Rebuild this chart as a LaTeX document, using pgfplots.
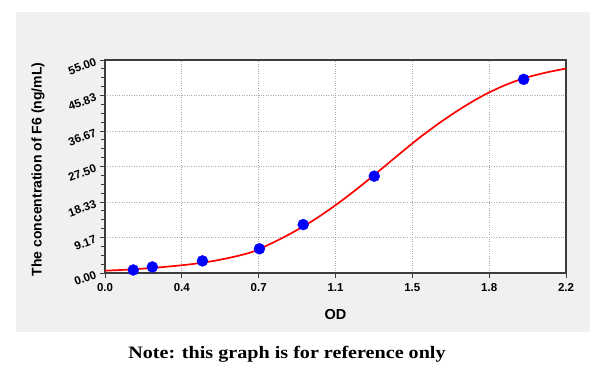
\documentclass[border=0pt]{standalone}
\usepackage{pgfplots}
\pgfplotsset{compat=1.18}
\usepackage{fontspec}
\setmainfont{Liberation Sans}
\newfontfamily\notefont[FakeStretch=1.15]{Liberation Serif}
\definecolor{panelgray}{RGB}{240,240,240}
\definecolor{framegray}{RGB}{60,60,60}
\definecolor{gridgray}{RGB}{170,170,170}
\begin{document}
\begin{tikzpicture}[x=1pt,y=1pt]
\fill[white] (0,0) rectangle (600,-377);
\path[use as bounding box] (0,0) rectangle (600,-377);
\fill[panelgray] (16,-12) rectangle (590,-332);
\begin{axis}[
  at={(105pt,-273pt)}, anchor=south west,
  scale only axis, width=461pt, height=213pt,
  xmin=0, xmax=2.2, ymin=0, ymax=55,
  axis background/.style={fill=white},
  axis line style={framegray, line width=1.1pt},
  xtick={0,0.366667,0.733333,1.1,1.466667,1.833333,2.2},
  xticklabels={0.0,0.4,0.7,1.1,1.5,1.8,2.2},
  ytick={0,9.166667,18.333333,27.5,36.666667,45.833333,55},
  yticklabels={0.00,9.17,18.33,27.50,36.67,45.83,55.00},
  minor x tick num=3, minor y tick num=3,
  tick align=outside, xtick pos=bottom, ytick pos=left,
  major tick length=5pt, minor tick length=4pt,
  tick style={framegray, line width=0.9pt},
  xmajorgrids, ymajorgrids,
  major grid style={gridgray, dotted, line width=0.8pt},
  xticklabel style={font=\fontsize{11.5}{13}\selectfont\bfseries, yshift=-2pt},
  yticklabel style={font=\fontsize{11.5}{13}\selectfont\bfseries, rotate=20, anchor=east, xshift=-1pt},
  xlabel={OD},
  ylabel={The concentration of F6 (ng/mL)},
  xlabel style={font=\fontsize{14.5}{16}\selectfont\bfseries, at={(axis description cs:0.5,-0.197)}, anchor=center},
  ylabel style={font=\fontsize{14}{16}\selectfont\bfseries, at={(axis description cs:-0.145,0.486)}, anchor=center, rotate=0},
  clip=false,
]
\addplot[only marks, mark=*, mark size=5.5pt, mark options={fill=blue, draw=blue}] coordinates {
  (0.135,0.78) (0.226,1.56) (0.465,3.125) (0.737,6.25) (0.946,12.5) (1.285,25) (1.998,50)
};
\addplot[red, line width=1.7pt, smooth] coordinates {
  (0.00,0.60) (0.10,0.85) (0.20,1.20) (0.30,1.65) (0.40,2.20) (0.50,2.95)
  (0.60,4.00) (0.70,5.40) (0.80,7.80) (0.90,10.6) (1.00,13.8) (1.10,17.5)
  (1.20,21.6) (1.30,26.0) (1.40,30.5) (1.50,34.9) (1.60,38.9) (1.70,42.5)
  (1.80,45.7) (1.90,48.3) (2.00,50.3) (2.10,51.7) (2.20,52.8)
};
\end{axis}
\node[font=\notefont\fontsize{17.5}{20}\selectfont\bfseries] at (287,-354) {Note: this graph is for reference only};
\end{tikzpicture}
\end{document}
